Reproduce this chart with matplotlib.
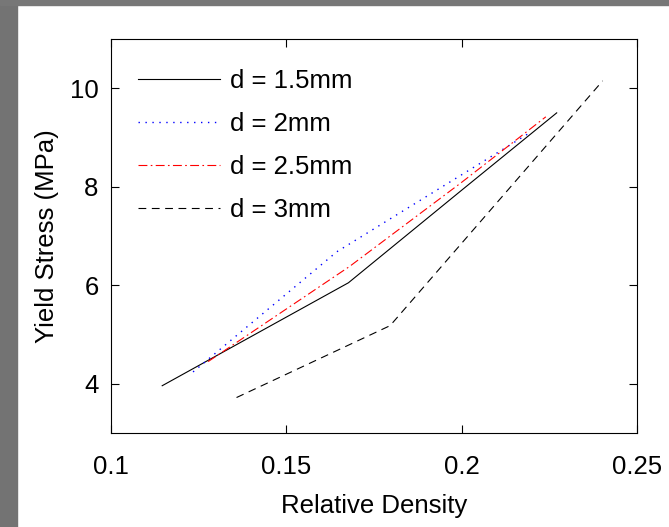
"""Yield stress vs relative density for different cell sizes."""
import matplotlib
matplotlib.use("Agg")
from matplotlib import pyplot as plt
from matplotlib.patches import Rectangle

plt.rcParams['font.family'] = ['Liberation Sans', 'DejaVu Sans']

# d = 1.5mm
rd_15 = [0.1146, 0.1677, 0.2000, 0.2271]
ys_15 = [3.96, 6.05, 7.93, 9.50]
# d = 2mm
rd_2 = [0.1234, 0.1644, 0.2195]
ys_2 = [4.24, 6.68, 9.10]
# d = 2.5mm
rd_25 = [0.1277, 0.1680, 0.2000, 0.2240]
ys_25 = [4.45, 6.38, 8.09, 9.42]
# d = 3mm
rd_3 = [0.1358, 0.1796, 0.2402]
ys_3 = [3.72, 5.18, 10.15]

labels = ['d = 1.5mm', 'd = 2mm', 'd = 2.5mm', 'd = 3mm']

fig = plt.figure(figsize=(6.69, 5.27), dpi=100)
fig.patch.set_facecolor('white')
# grey frame strips on the left and top
fig.patches.append(Rectangle((0, 0), 17 / 669, 1, transform=fig.transFigure,
                             color='#737373', zorder=0))
fig.patches.append(Rectangle((0, 1 - 5 / 527), 1, 5 / 527, transform=fig.transFigure,
                             color='#777777', zorder=0))

ax = fig.add_axes([111 / 669, 94 / 527, 526 / 669, 394 / 527])

ax.plot(rd_15, ys_15, color='black', linestyle='-', linewidth=0.8, label=labels[0])
ax.plot(rd_2, ys_2, color='blue', linestyle=(0, (1, 4)), linewidth=1.0, label=labels[1])
ax.plot(rd_25, ys_25, color='red', linestyle=(0, (8, 3, 1.5, 3)), linewidth=0.8, label=labels[2])
ax.plot(rd_3, ys_3, color='black', linestyle=(0, (7, 5)), linewidth=0.8, label=labels[3])

ax.set_xlim(0.1, 0.25)
ax.set_ylim(3, 11)
ax.set_xticks([0.1, 0.15, 0.2, 0.25])
ax.set_xticklabels(['0.1', '0.15', '0.2', '0.25'])
ax.set_yticks([4, 6, 8, 10])
ax.tick_params(direction='in', length=6, width=0.8, top=True, right=True,
               labelsize=18.5, pad=9)
ax.tick_params(axis='x', pad=16)
for s in ax.spines.values():
    s.set_linewidth(0.8)

ax.set_xlabel("Relative Density", fontsize=18.5, labelpad=11)
ax.set_ylabel("Yield Stress (MPa)", fontsize=18.5, labelpad=8)

ax.legend(loc='upper left', bbox_to_anchor=(0.051, 0.925), frameon=False,
          fontsize=18.5, handlelength=3.2, handletextpad=0.4, labelspacing=0.74,
          borderpad=0, borderaxespad=0)

plt.savefig('out.png', dpi=100, facecolor='white')
